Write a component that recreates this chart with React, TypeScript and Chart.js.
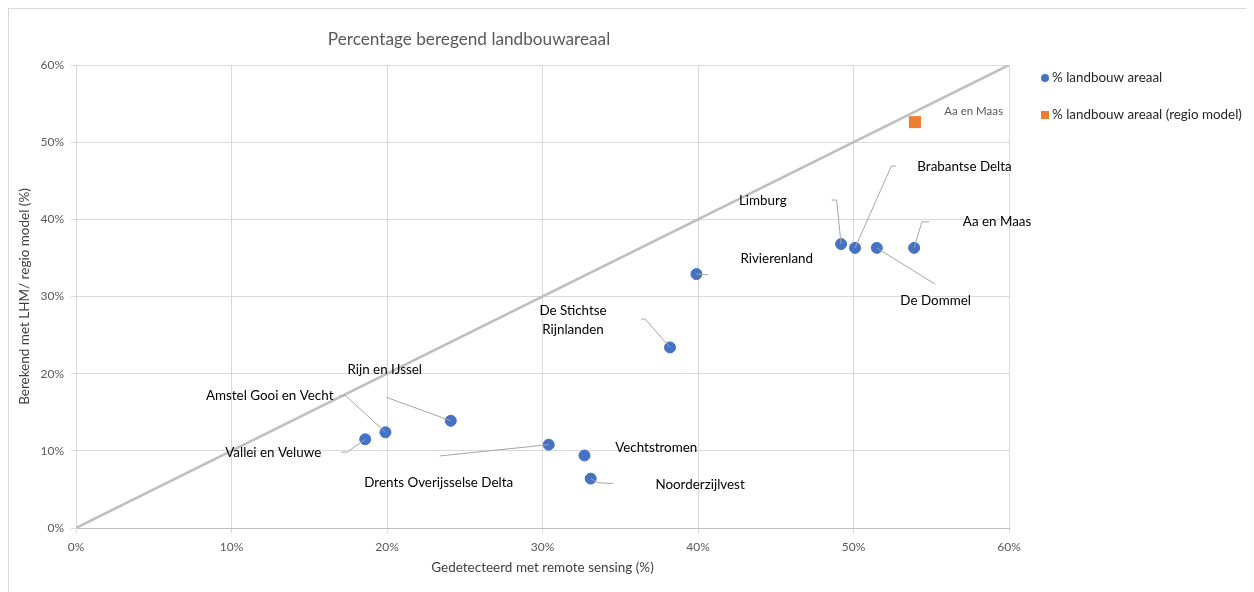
import React, { useEffect, useRef } from 'react';
import { Chart, registerables } from 'chart.js';

Chart.register(...registerables);

// ---- data ----
const chartTitle = 'Percentage beregend landbouwareaal';
const xAxisTitle = 'Gedetecteerd met remote sensing (%)';
const yAxisTitle = 'Berekend met LHM/ regio model (%)';
const seriesNames = ['% landbouw areaal', '% landbouw areaal (regio model)'];

const regions = [
  'Vallei en Veluwe',
  'Amstel Gooi en Vecht',
  'Rijn en IJssel',
  'Drents Overijsselse Delta',
  'Vechtstromen',
  'Noorderzijlvest',
  'De Stichtse Rijnlanden',
  'Rivierenland',
  'Limburg',
  'Brabantse Delta',
  'De Dommel',
  'Aa en Maas',
];
const remoteSensing = [18.6, 19.9, 24.1, 30.4, 32.7, 33.1, 38.2, 39.9, 49.2, 50.1, 51.5, 53.9];
const lhmModel = [11.5, 12.4, 13.9, 10.8, 9.4, 6.4, 23.4, 32.9, 36.8, 36.3, 36.3, 36.3];

const regioModelRegions = ['Aa en Maas'];
const regioModelRemote = [53.95];
const regioModelValue = [52.6];

const tickValues = [0, 10, 20, 30, 40, 50, 60];
const referenceLine = [0, 60];

// ---- label layout (pixel offsets from the point) ----
type Layout = { align: CanvasTextAlign; dx: number; dy: number; leader: number[][]; lines?: string[] };
const labelLayout: Layout[] = [
  { align: 'right', dx: -44, dy: 13, leader: [[-17.7, 12.7], [-24, 13]] },
  { align: 'right', dx: -52, dy: -36.6, leader: [[-39.6, -36.6], [-46, -36.6]] },
  { align: 'center', dx: -66, dy: -50.7, leader: [[-64.3, -23.4]] },
  { align: 'center', dx: -110, dy: 38, leader: [[-109, 11.3]] },
  { align: 'left', dx: 30.7, dy: -8, leader: [] },
  { align: 'left', dx: 64.7, dy: 5.7, leader: [[7, 4], [22, 5]] },
  { align: 'center', dx: -97, dy: -37, leader: [[-25, -28.4], [-29, -28.4]], lines: ['De Stichtse', 'Rijnlanden'] },
  { align: 'left', dx: 44, dy: -15.7, leader: [[12, 0.7]] },
  { align: 'right', dx: -54.4, dy: -43.3, leader: [[-4.4, -44], [-9.4, -44]] },
  { align: 'left', dx: 62.3, dy: -81, leader: [[36.3, -81.7], [40.7, -81.7]] },
  { align: 'center', dx: 58.8, dy: 53.3, leader: [[58.3, 36.3]] },
  { align: 'left', dx: 48.7, dy: -26, leader: [[7.7, -26], [15, -26]] },
];
const regioLabelLayout: Layout[] = [{ align: 'left', dx: 29.3, dy: -10.7, leader: [] }];

const FONT = 'Lato, "Open Sans", sans-serif';
const BLUE = '#4472C4';
const ORANGE = '#ED7D31';

const annotationPlugin = {
  id: 'annotations',
  afterDatasetsDraw(chart: any) {
    const ctx: CanvasRenderingContext2D = chart.ctx;
    const xs = chart.scales.x;
    const ys = chart.scales.y;
    ctx.save();
    const drawLabel = (name: string, x: number, y: number, L: Layout, font: string, color: string) => {
      const px = xs.getPixelForValue(x);
      const py = ys.getPixelForValue(y);
      if (L.leader.length) {
        ctx.beginPath();
        ctx.moveTo(px, py);
        L.leader.forEach(([dx, dy]) => ctx.lineTo(px + dx, py + dy));
        ctx.strokeStyle = '#a6a6a6';
        ctx.lineWidth = 1;
        ctx.stroke();
      }
      ctx.font = font;
      ctx.fillStyle = color;
      ctx.textAlign = L.align;
      ctx.textBaseline = 'middle';
      const lines = L.lines || [name];
      lines.forEach((t, k) => ctx.fillText(t, px + L.dx, py + L.dy + k * 19));
    };
    regions.forEach((name, i) => drawLabel(name, remoteSensing[i], lhmModel[i], labelLayout[i], `13.4px ${FONT}`, '#000000'));
    regioModelRegions.forEach((name, i) =>
      drawLabel(name, regioModelRemote[i], regioModelValue[i], regioLabelLayout[i], `11.5px ${FONT}`, '#595959')
    );

    // title
    ctx.font = `17.2px ${FONT}`;
    ctx.fillStyle = '#595959';
    ctx.textAlign = 'center';
    ctx.textBaseline = 'middle';
    ctx.fillText(chartTitle, 460, 30);

    // legend
    ctx.font = `13.4px ${FONT}`;
    ctx.textAlign = 'left';
    ctx.fillStyle = BLUE;
    ctx.beginPath();
    ctx.arc(1036, 69, 4, 0, Math.PI * 2);
    ctx.fill();
    ctx.fillStyle = '#262626';
    ctx.fillText(seriesNames[0], 1043, 69);
    ctx.fillStyle = ORANGE;
    ctx.fillRect(1032, 102, 8, 8);
    ctx.fillStyle = '#262626';
    ctx.fillText(seriesNames[1], 1043, 106);
    ctx.restore();
  },
};

export default function App() {
  const ref = useRef<HTMLCanvasElement>(null);
  useEffect(() => {
    document.body.style.overflow = 'hidden';
    const chart = new Chart(ref.current as HTMLCanvasElement, {
      type: 'scatter',
      data: {
        datasets: [
          {
            label: seriesNames[0],
            data: regions.map((_, i) => ({ x: remoteSensing[i], y: lhmModel[i] })),
            backgroundColor: BLUE,
            borderColor: BLUE,
            borderWidth: 1,
            pointRadius: 5.5,
            pointStyle: 'circle',
          },
          {
            label: seriesNames[1],
            data: regioModelRegions.map((_, i) => ({ x: regioModelRemote[i], y: regioModelValue[i] })),
            backgroundColor: ORANGE,
            borderColor: ORANGE,
            borderWidth: 0,
            pointRadius: 8.5,
            pointStyle: 'rect',
          },
          {
            label: 'y=x',
            data: referenceLine.map((v) => ({ x: v, y: v })),
            showLine: true,
            borderColor: '#bfbfbf',
            borderWidth: 2.5,
            pointRadius: 0,
            type: 'line' as any,
          } as any,
        ],
      },
      options: {
        animation: false,
        responsive: true,
        maintainAspectRatio: false,
        layout: { padding: { top: 56, right: 245, left: 0, bottom: 0 } },
        plugins: {
          legend: { display: false },
          tooltip: { enabled: false },
          title: { display: false },
        },
        scales: {
          x: {
            type: 'linear',
            min: 0,
            max: 60,
            afterBuildTicks: (s: any) => {
              s.ticks = tickValues.map((v) => ({ value: v }));
            },
            afterFit: (s: any) => {
              s.height = 64;
            },
            ticks: {
              callback: (v: any) => `${v}%`,
              color: '#595959',
              font: { family: FONT, size: 12 },
              padding: 7,
              maxRotation: 0,
            },
            grid: { color: '#d9d9d9', lineWidth: 1, tickLength: 5, drawTicks: true },
            border: { color: '#bfbfbf', width: 1 },
            title: {
              display: true,
              text: xAxisTitle,
              color: '#404040',
              font: { family: FONT, size: 13.5 },
              padding: { top: 0, bottom: 16 },
            },
          },
          y: {
            type: 'linear',
            min: 0,
            max: 60,
            afterBuildTicks: (s: any) => {
              s.ticks = tickValues.map((v) => ({ value: v }));
            },
            afterFit: (s: any) => {
              s.width = 67;
            },
            ticks: {
              callback: (v: any) => `${v}%`,
              color: '#595959',
              font: { family: FONT, size: 12 },
              padding: 7,
            },
            grid: { color: '#d9d9d9', lineWidth: 1, tickLength: 5, drawTicks: true },
            border: { color: '#d9d9d9', width: 1 },
            title: {
              display: true,
              text: yAxisTitle,
              color: '#404040',
              font: { family: FONT, size: 13.5 },
              padding: { top: 8, bottom: 0 },
            },
          },
        },
      },
      plugins: [annotationPlugin],
    });
    return () => chart.destroy();
  }, []);
  return (
    <div
      style={{
        position: 'relative',
        width: 1246,
        height: 584,
        borderLeft: '1px solid #d9d9d9',
        borderTop: '1px solid #d9d9d9',
        boxSizing: 'border-box',
      }}
    >
      <canvas ref={ref} />
    </div>
  );
}
